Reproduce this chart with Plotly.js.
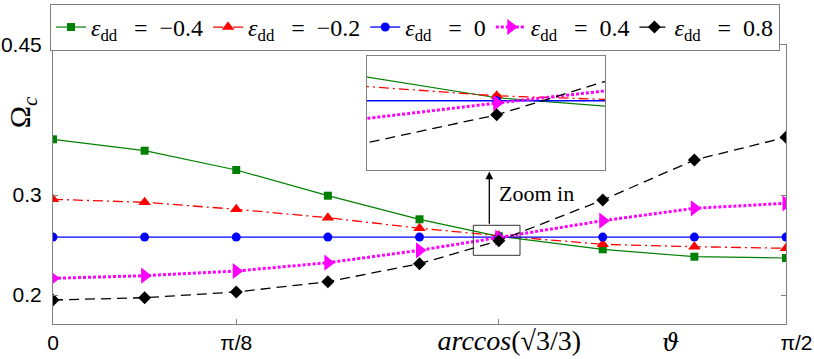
<!DOCTYPE html>
<html>
<head>
<meta charset="utf-8">
<script src="https://cdn.plot.ly/plotly-3.0.1.min.js"></script>
<style>
  html, body { margin: 0; padding: 0; background: #fff; }
  #omega_plot { width: 814px; height: 359px; }
</style>
</head>
<body>
<div id="omega_plot"></div>
<script>
// angles: 0, pi/16 ... pi/4, magic angle, 3pi/8 ... pi/2
var theta = [0, 0.19635, 0.39270, 0.58905, 0.78540, 0.95532, 1.17810, 1.37445, 1.57080];

var edd_m04 = [0.3557, 0.3443, 0.3250, 0.2993, 0.2757, 0.2587, 0.2457, 0.2383, 0.2370];
var edd_m02 = [0.2957, 0.2927, 0.2857, 0.2773, 0.2668, 0.2592, 0.2507, 0.2483, 0.2467];
var edd_0   = [0.2579, 0.2579, 0.2579, 0.2579, 0.2579, 0.2579, 0.2579, 0.2579, 0.2579];
var edd_04  = [0.2167, 0.2193, 0.2240, 0.2323, 0.2447, 0.2573, 0.2743, 0.2867, 0.2917];
var edd_08  = [0.1950, 0.1973, 0.2030, 0.2133, 0.2313, 0.2542, 0.2950, 0.3350, 0.3577];

var names = ['\u22120.4', '\u22120.2', '0', '0.4', '0.8'];
var tickVals = [0, 0.39270, 0.95532, 1.57080];
var tickText = ['0', '\u03c0/8',
  '\u2003<span style="font-family:Liberation Serif;font-size:28px;font-style:italic">arccos</span><span style="font-family:Liberation Serif;font-size:28px">(\u221a3/3)</span>',
  '\u2003\u03c0/2'];

// zoom window around the magic angle
var zoomX = [0.9007, 1.0008];
var zoomY = [0.2397, 0.2697];

var styles = [
  {color: '#008000', width: 1.2, dash: 'solid', symbol: 'square', size: 8},
  {color: '#ff0000', width: 1.3, dash: '10px,4px,2px,4px', symbol: 'triangle-up', size: 11},
  {color: '#0000ff', width: 1.3, dash: 'solid', symbol: 'circle', size: 9},
  {color: '#ff00ff', width: 3, dash: '3px,2px', symbol: 'triangle-right', size: 14},
  {color: '#000000', width: 1.3, dash: '10px,6px', symbol: 'diamond', size: 10}
];
var series = [edd_m04, edd_m02, edd_0, edd_04, edd_08];

function legendName(v) {
  return '<i>\u03b5</i><sub>dd</sub>\u2002\u2009=\u2002' + v;
}

var data = [];
series.forEach(function (ys, i) {
  var s = styles[i];
  data.push({
    x: theta, y: ys, name: legendName(names[i]),
    type: 'scatter', mode: 'lines+markers',
    line: {color: s.color, width: s.width, dash: s.dash},
    marker: {color: s.color, symbol: s.symbol, size: s.size}
  });
});
series.forEach(function (ys, i) {
  var s = styles[i];
  data.push({
    x: theta, y: ys, xaxis: 'x2', yaxis: 'y2', showlegend: false,
    type: 'scatter', mode: 'lines+markers',
    line: {color: s.color, width: s.width, dash: s.dash},
    marker: {color: s.color, symbol: s.symbol, size: s.size}
  });
});

var gray = '#808080';

var layout = {
  width: 814, height: 359,
  margin: {l: 53, r: 28, t: 45, b: 35, autoexpand: false},
  paper_bgcolor: '#fff', plot_bgcolor: '#fff',
  font: {family: 'Liberation Sans, Arial, sans-serif', size: 21, color: '#262626'},
  showlegend: true,
  legend: {
    orientation: 'h', xref: 'container', yref: 'container',
    x: 0.0614, xanchor: 'left', y: 0.989, yanchor: 'top',
    bordercolor: gray, borderwidth: 1, bgcolor: '#fff',
    font: {family: 'Liberation Serif, Times New Roman, serif', size: 24, color: '#000'},
    tracegroupgap: 0
  },
  xaxis: {
    range: [0, 1.5708], tickvals: tickVals, ticktext: tickText,
    ticks: 'inside', ticklen: 5, tickcolor: gray,
    showline: true, linecolor: gray, mirror: 'ticks',
    showgrid: false, zeroline: false,
    tickfont: {size: 21, color: '#000'}
  },
  yaxis: {
    range: [0.171, 0.45], tickvals: [0.2, 0.3, 0.45], ticktext: ['0.2', '0.3', '0.45'],
    ticks: 'inside', ticklen: 5, tickcolor: gray,
    showline: true, linecolor: gray, mirror: 'ticks',
    showgrid: false, zeroline: false, ticklabelstandoff: 6,
    tickfont: {size: 21, color: '#000'}
  },
  xaxis2: {
    domain: [0.428, 0.753], anchor: 'y2', range: zoomX,
    showline: true, linecolor: gray, mirror: true,
    showticklabels: false, ticks: '', showgrid: false, zeroline: false
  },
  yaxis2: {
    domain: [0.552, 0.961], anchor: 'x2', range: zoomY,
    showline: true, linecolor: gray, mirror: true,
    showticklabels: false, ticks: '', showgrid: false, zeroline: false
  },
  shapes: [{
    type: 'rect', xref: 'x', yref: 'y',
    x0: zoomX[0], x1: zoomX[1], y0: zoomY[0], y1: zoomY[1],
    line: {color: '#333', width: 1}
  }],
  annotations: [
    {
      xref: 'x', yref: 'y', axref: 'x', ayref: 'y',
      x: 0.935, y: 0.3235, ax: 0.935, ay: zoomY[1],
      text: '', showarrow: true, arrowhead: 2, arrowsize: 1.2, arrowwidth: 1.3, arrowcolor: '#000'
    },
    {
      xref: 'x', yref: 'y', x: 0.951, y: 0.302, xanchor: 'left', yanchor: 'middle',
      text: 'Zoom in', showarrow: false,
      font: {family: 'Liberation Serif, serif', size: 22, color: '#000'}
    },
    {
      xref: 'paper', yref: 'paper', x: -0.042, y: 0.76, xanchor: 'center', yanchor: 'middle',
      text: '\u03a9<sub><i>c</i></sub>', textangle: -90, showarrow: false,
      font: {family: 'Liberation Serif, serif', size: 30, color: '#000'}
    },
    {
      xref: 'paper', yref: 'paper', x: 0.842, y: -0.068, xanchor: 'center', yanchor: 'middle',
      text: '<i>\u03d1</i>', showarrow: false,
      font: {family: 'DejaVu Serif, Liberation Serif, serif', size: 24, color: '#000'}
    }
  ]
};

Plotly.newPlot('omega_plot', data, layout, {displayModeBar: false, staticPlot: true});
</script>
</body>
</html>
